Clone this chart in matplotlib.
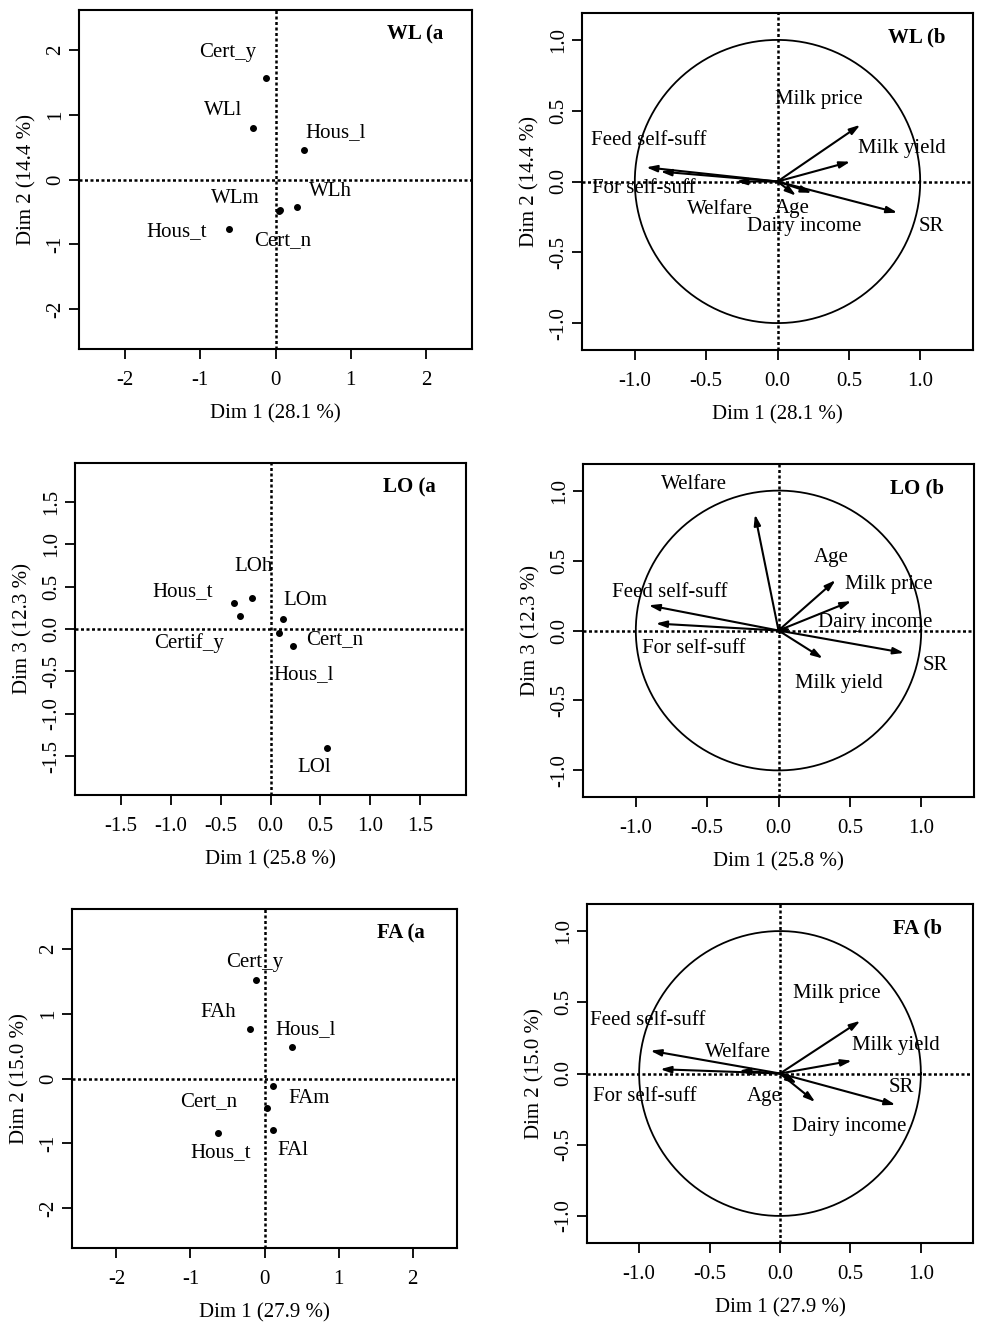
import matplotlib
matplotlib.use("Agg")
import matplotlib.pyplot as plt
import numpy as np

plt.rcParams['font.family'] = ['Liberation Serif', 'DejaVu Serif']
plt.rcParams['axes.unicode_minus'] = False

# --- individuals (categories) panels ---
wl_cat = ["Cert_y", "WLl", "Hous_l", "WLh", "WLm", "Cert_n", "Hous_t"]
wl_x = [-0.13, -0.30, 0.38, 0.29, 0.04, 0.06, -0.62]
wl_y = [1.57, 0.80, 0.45, -0.43, -0.48, -0.47, -0.77]
wl_lx = [-0.64, -0.70, 0.80, 0.73, -0.54, 0.09, -1.31]
wl_ly = [1.96, 1.07, 0.72, -0.19, -0.29, -0.95, -0.80]

lo_cat = ["LOh", "Hous_t", "LOm", "Cert_n", "Certif_y", "Hous_l", "LOl"]
lo_x = [-0.19, -0.37, 0.13, 0.23, -0.31, 0.09, 0.57]
lo_y = [0.37, 0.31, 0.12, -0.20, 0.15, -0.05, -1.40]
lo_lx = [-0.17, -0.88, 0.35, 0.64, -0.82, 0.33, 0.44]
lo_ly = [0.74, 0.44, 0.34, -0.12, -0.16, -0.54, -1.63]

fa_cat = ["Cert_y", "FAh", "Hous_l", "FAm", "Cert_n", "FAl", "Hous_t"]
fa_x = [-0.11, -0.19, 0.37, 0.11, 0.03, 0.12, -0.63]
fa_y = [1.52, 0.77, 0.49, -0.11, -0.46, -0.80, -0.84]
fa_lx = [-0.13, -0.62, 0.56, 0.60, -0.76, 0.38, -0.59]
fa_ly = [1.80, 1.02, 0.76, -0.31, -0.35, -1.11, -1.14]

# --- variables panels ---
var_names = ["Feed self-suff", "For self-suff", "Welfare", "Age",
             "Milk price", "Milk yield", "Dairy income", "SR"]

wl_vx = [-0.92, -0.82, -0.29, 0.13, 0.58, 0.51, 0.24, 0.84]
wl_vy = [0.10, 0.07, 0.00, -0.10, 0.40, 0.14, -0.08, -0.22]
wl_vlx = [-0.90, -0.94, -0.40, 0.10, 0.29, 0.87, 0.19, 1.08]
wl_vly = [0.29, -0.05, -0.20, -0.19, 0.58, 0.23, -0.32, -0.32]

lo_vx = [-0.91, -0.86, -0.165, 0.40, 0.51, 0.31, 0.09, 0.88]
lo_vy = [0.18, 0.05, 0.83, 0.36, 0.21, -0.20, 0.01, -0.16]
lo_vlx = [-0.76, -0.59, -0.59, 0.37, 0.77, 0.42, 0.68, 1.10]
lo_vly = [0.27, -0.13, 1.04, 0.52, 0.33, -0.38, 0.06, -0.25]

fa_vx = [-0.92, -0.85, -0.29, 0.12, 0.57, 0.51, 0.25, 0.82]
fa_vy = [0.16, 0.03, 0.02, -0.07, 0.37, 0.09, -0.20, -0.22]
fa_vlx = [-0.94, -0.96, -0.30, -0.11, 0.40, 0.82, 0.49, 0.86]
fa_vly = [0.37, -0.16, 0.15, -0.16, 0.56, 0.20, -0.37, -0.10]

FS = 15
W, H = 989, 1339


def place(fig, x0, y0, x1, y1):
    return fig.add_axes([x0 / W, 1 - y1 / H, (x1 - x0) / W, (y1 - y0) / H])


def style(ax, title, xlab, ylab, xt, yt, fmt):
    for s in ax.spines.values():
        s.set_linewidth(1.5)
    ax.axhline(0, color='black', lw=1.8, ls=(0, (1.2, 1.0)), zorder=1)
    ax.axvline(0, color='black', lw=1.8, ls=(0, (1.2, 1.0)), zorder=1)
    ax.set_xticks(xt)
    ax.set_yticks(yt)
    ax.set_xticklabels([fmt % v for v in xt])
    ax.set_yticklabels([fmt % v for v in yt], rotation=90, va='center')
    ax.tick_params(axis='both', direction='out', length=7, width=1.3, labelsize=FS)
    ax.tick_params(axis='x', pad=9)
    ax.tick_params(axis='y', pad=3)
    ax.set_xlabel(xlab, fontsize=FS, labelpad=10)
    ax.set_ylabel(ylab, fontsize=FS, labelpad=7)
    ax.text(0.855, 0.927, title, transform=ax.transAxes, ha='center', va='center',
            fontsize=FS, fontweight='bold')


def ind_panel(ax, names, xs, ys, lxs, lys, lim_x, lim_y, title, xlab, ylab, ticks, fmt):
    ax.plot(xs, ys, 'o', color='black', ms=4, zorder=3)
    for n, lx, ly in zip(names, lxs, lys):
        ax.text(lx, ly, n, ha='center', va='center', fontsize=FS)
    ax.set_xlim(-lim_x, lim_x)
    ax.set_ylim(-lim_y, lim_y)
    style(ax, title, xlab, ylab, ticks, ticks, fmt)


def var_panel(ax, xs, ys, lxs, lys, title, xlab, ylab):
    t = np.linspace(0, 2 * np.pi, 400)
    ax.plot(np.cos(t), np.sin(t), color='black', lw=1.3)
    for x, y in zip(xs, ys):
        ax.annotate("", xy=(x, y), xytext=(0, 0),
                    arrowprops=dict(arrowstyle="-|>,head_length=0.45,head_width=0.14",
                                    lw=1.5, color='black', shrinkA=0, shrinkB=0,
                                    mutation_scale=14))
    for n, lx, ly in zip(var_names, lxs, lys):
        ax.text(lx, ly, n, ha='center', va='center', fontsize=FS)
    ax.set_xlim(-1.37, 1.37)
    ax.set_ylim(-1.19, 1.19)
    style(ax, title, xlab, ylab, [-1.0, -0.5, 0.0, 0.5, 1.0], [-1.0, -0.5, 0.0, 0.5, 1.0], "%.1f")


fig = plt.figure(figsize=(W / 100, H / 100), dpi=100)

ax = place(fig, 79, 10, 472, 349)
ind_panel(ax, wl_cat, wl_x, wl_y, wl_lx, wl_ly, 2.61, 2.62, "WL (a",
          "Dim 1 (28.1 %)", "Dim 2 (14.4 %)", [-2, -1, 0, 1, 2], "%d")

ax = place(fig, 582, 13, 973, 350)
var_panel(ax, wl_vx, wl_vy, wl_vlx, wl_vly, "WL (b", "Dim 1 (28.1 %)", "Dim 2 (14.4 %)")

ax = place(fig, 75, 463, 466, 795)
ind_panel(ax, lo_cat, lo_x, lo_y, lo_lx, lo_ly, 1.96, 1.96, "LO (a",
          "Dim 1 (25.8 %)", "Dim 3 (12.3 %)", [-1.5, -1.0, -0.5, 0.0, 0.5, 1.0, 1.5], "%.1f")

ax = place(fig, 583, 464, 974, 797)
var_panel(ax, lo_vx, lo_vy, lo_vlx, lo_vly, "LO (b", "Dim 1 (25.8 %)", "Dim 3 (12.3 %)")

ax = place(fig, 72, 909, 457, 1248)
ind_panel(ax, fa_cat, fa_x, fa_y, fa_lx, fa_ly, 2.60, 2.62, "FA (a",
          "Dim 1 (27.9 %)", "Dim 2 (15.0 %)", [-2, -1, 0, 1, 2], "%d")

ax = place(fig, 587, 904, 973, 1243)
var_panel(ax, fa_vx, fa_vy, fa_vlx, fa_vly, "FA (b", "Dim 1 (27.9 %)", "Dim 2 (15.0 %)")

fig.savefig("out.png", dpi=100)
